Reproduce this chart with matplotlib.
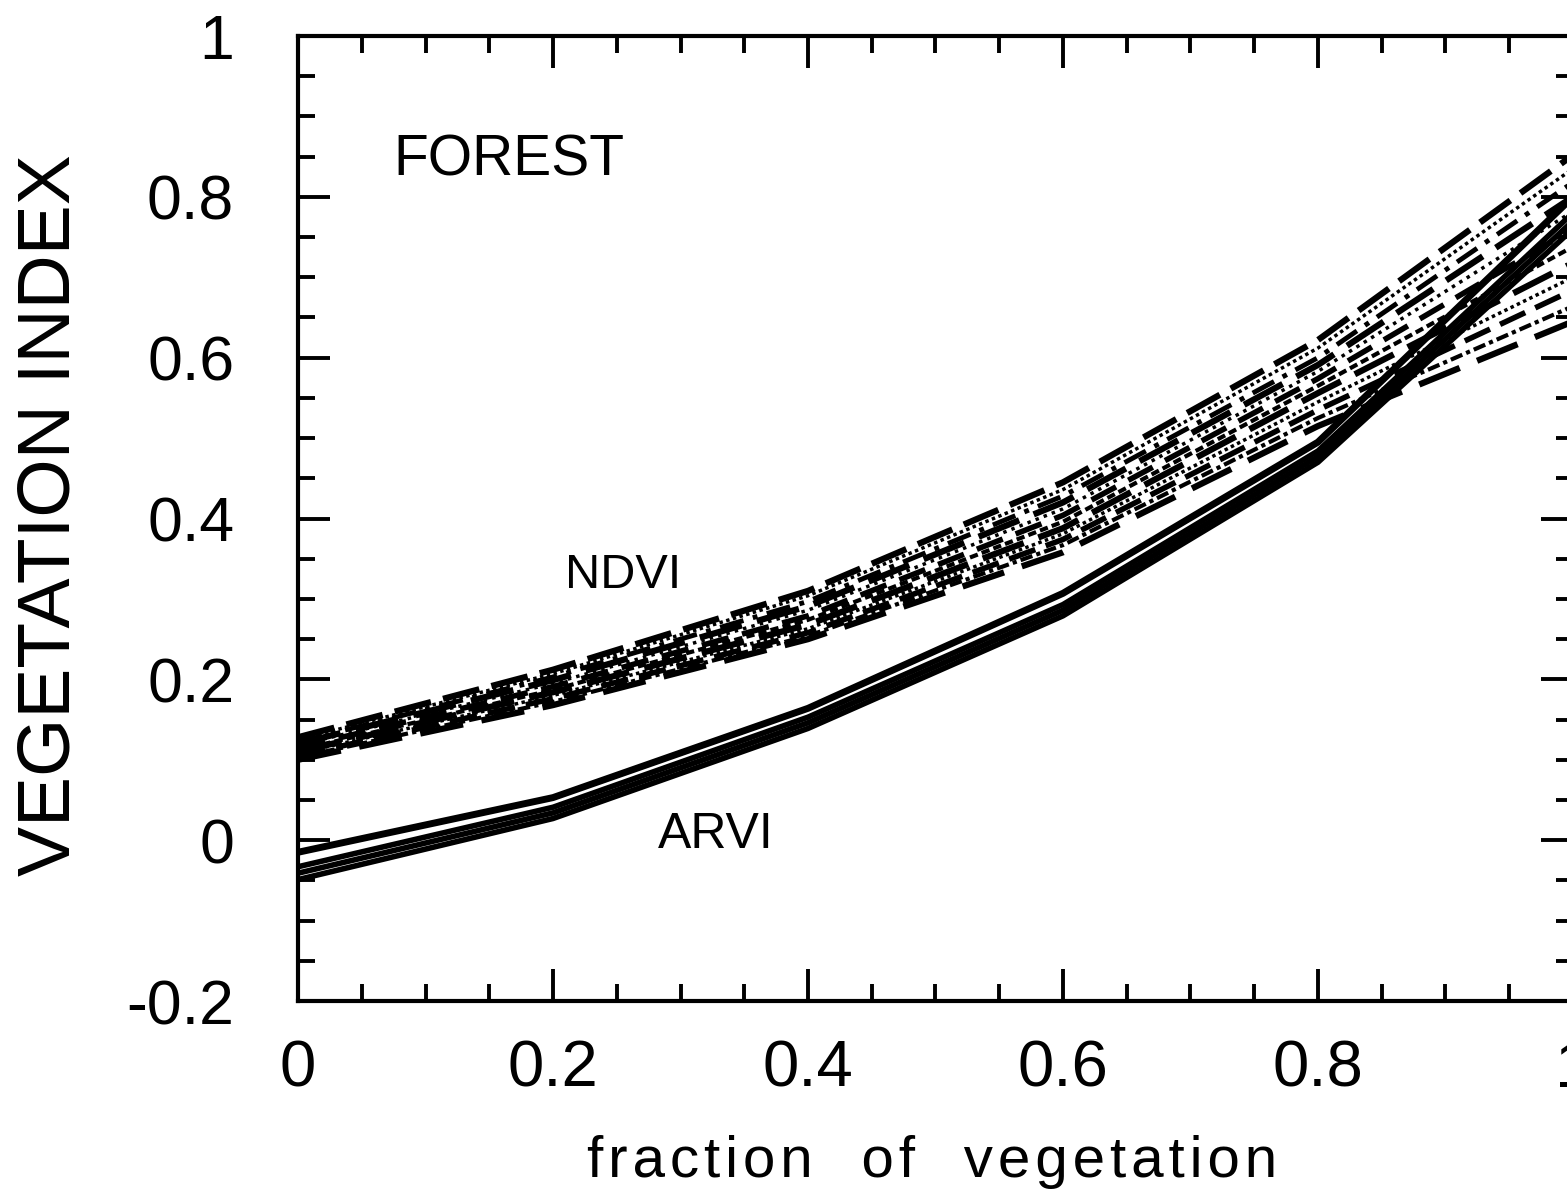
import matplotlib
matplotlib.use("Agg")
import matplotlib.pyplot as plt
from matplotlib.ticker import MultipleLocator

plt.rcParams["font.family"] = ["Liberation Sans", "DejaVu Sans"]

# fraction of vegetation at which the curves were computed
fv = [0.0, 0.2, 0.4, 0.6, 0.8, 1.0]

# NDVI curves (dashed / dotted band), one list per aerosol case
ndvi_curves = [
    [0.128, 0.212, 0.310, 0.445, 0.622, 0.852],
    [0.125, 0.207, 0.304, 0.436, 0.612, 0.835],
    [0.122, 0.203, 0.297, 0.428, 0.600, 0.818],
    [0.120, 0.199, 0.291, 0.420, 0.591, 0.800],
    [0.118, 0.195, 0.286, 0.412, 0.583, 0.782],
    [0.115, 0.191, 0.279, 0.404, 0.574, 0.760],
    [0.112, 0.187, 0.274, 0.396, 0.565, 0.738],
    [0.110, 0.184, 0.268, 0.388, 0.556, 0.718],
    [0.108, 0.180, 0.263, 0.381, 0.545, 0.700],
    [0.105, 0.176, 0.258, 0.374, 0.535, 0.684],
    [0.103, 0.172, 0.254, 0.367, 0.525, 0.664],
    [0.100, 0.168, 0.250, 0.358, 0.515, 0.645],
]

# ARVI curves (solid lines)
arvi_curves = [
    [-0.015, 0.053, 0.164, 0.307, 0.495, 0.800],
    [-0.033, 0.041, 0.153, 0.293, 0.484, 0.780],
    [-0.041, 0.034, 0.146, 0.286, 0.477, 0.770],
    [-0.049, 0.027, 0.139, 0.279, 0.470, 0.760],
]

ndvi_styles = [
    (0, (6, 2)), (0, (1, 1)), (0, (5, 2, 1, 2)), (0, (7, 2.5)),
    (0, (1, 1.5)), (0, (5, 2.5)), (0, (2, 1)), (0, (7, 2.5)),
    (0, (1, 1)), (0, (5, 2)), (0, (3, 1, 1, 1)), (0, (7, 3)),
]
ndvi_widths = [4.5, 2.5, 3.5, 4.5, 2.5, 4.0, 3.0, 4.5, 2.5, 4.0, 3.0, 4.5]

fig = plt.figure(figsize=(15.67, 11.96), dpi=100)
fig.patch.set_facecolor("white")
ax = fig.add_axes([0.1902, 0.1630, 0.8136, 0.8069])

for vals, ls, lw in zip(ndvi_curves, ndvi_styles, ndvi_widths):
    ax.plot(fv, vals, color="black", linestyle=ls, linewidth=lw)

for i, vals in enumerate(arvi_curves):
    ax.plot(fv, vals, color="black", linestyle="-", linewidth=4.0 if i else 5.0)

ax.set_xlim(0, 1)
ax.set_ylim(-0.2, 1)

ax.xaxis.set_minor_locator(MultipleLocator(0.05))
ax.yaxis.set_minor_locator(MultipleLocator(0.05))

ax.set_xticks([0, 0.2, 0.4, 0.6, 0.8, 1.0])
ax.set_xticklabels(["0", "0.2", "0.4", "0.6", "0.8", "1"])
ax.set_yticks([-0.2, 0, 0.2, 0.4, 0.6, 0.8, 1.0])
ax.set_yticklabels(["-0.2", "0", "0.2", "0.4", "0.6", "0.8", "1"])

for side in ["top", "bottom", "left", "right"]:
    ax.spines[side].set_linewidth(3)

ax.tick_params(which="both", direction="in", top=True, right=True, width=2.8, color="black")
ax.tick_params(which="major", length=23)
ax.tick_params(which="minor", length=12)
ax.tick_params(axis="x", which="major", labelsize=47, pad=28)
ax.tick_params(axis="y", which="major", labelsize=45, pad=46)

ax.set_ylabel("VEGETATION INDEX", fontsize=54)
ax.yaxis.label.set_va("center")
ax.yaxis.set_label_coords(-0.1945, 0.504)

ax.set_xlabel("f\u200ar\u200aa\u200ac\u200at\u200ai\u200ao\u200an   o\u200af   v\u200ae\u200ag\u200ae\u200at\u200aa\u200at\u200ai\u200ao\u200an",
              fontsize=42)
ax.xaxis.label.set_va("center")
ax.xaxis.set_label_coords(0.497, -0.167)

ax.text(0.0745, 0.8715, "FOREST", transform=ax.transAxes, fontsize=41,
        ha="left", va="center")
ax.text(0.255, 0.441, "NDVI", transform=ax.transAxes, fontsize=35,
        ha="center", va="center")
ax.text(0.328, 0.172, "ARVI", transform=ax.transAxes, fontsize=36,
        ha="center", va="center")

fig.savefig("out.png", dpi=100, facecolor="white")
